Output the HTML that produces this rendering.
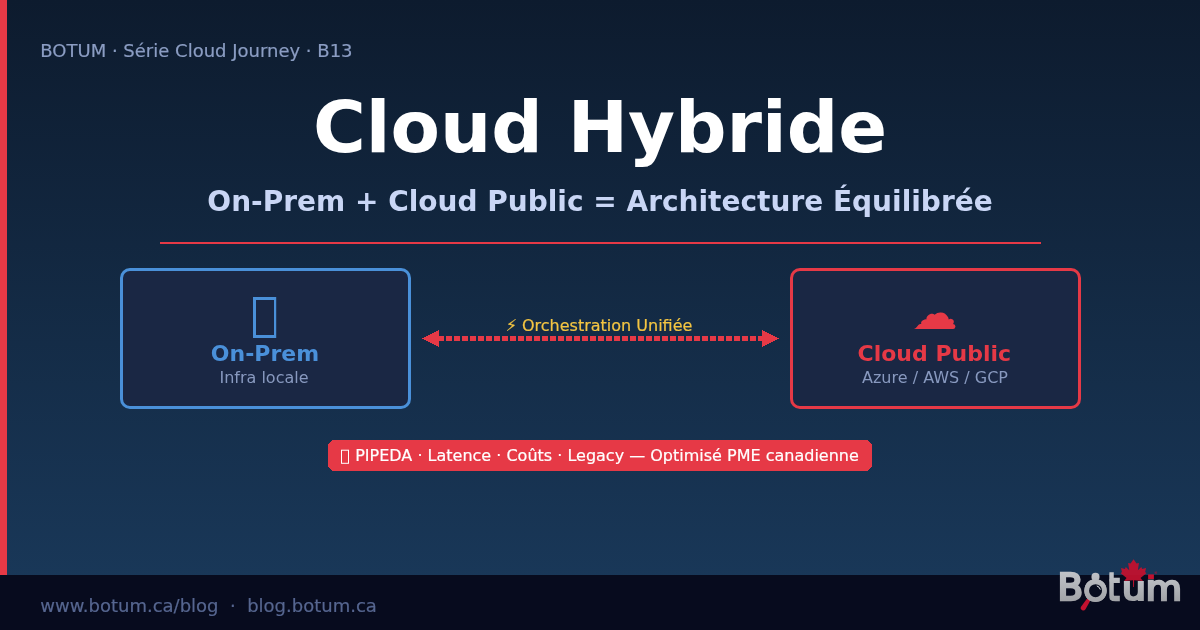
<!DOCTYPE html>
<html lang="fr">
<head>
<meta charset="utf-8">
<title>Cloud Hybride — BOTUM</title>
<style>
  html, body { margin: 0; padding: 0; background: #070b1e; }
  body { width: 1200px; height: 630px; overflow: hidden; }
  svg { display: block; will-change: transform; }
  text { font-family: "DejaVu Sans", "Liberation Sans", sans-serif; }
  .r { stroke-width: 0.2px; stroke-linejoin: round; }
</style>
</head>
<body>
<svg width="1200" height="630" viewBox="0 0 1200 630">
  <defs>
    <filter id="noop" x="0" y="0" width="1200" height="630" filterUnits="userSpaceOnUse"><feOffset dx="0" dy="0"/></filter>
    <linearGradient id="bg" x1="0" y1="0" x2="0" y2="1">
      <stop offset="0" stop-color="#0d1b2e"/>
      <stop offset="1" stop-color="#1a3a5c"/>
    </linearGradient>
    <linearGradient id="lg" gradientUnits="userSpaceOnUse" x1="0" y1="571" x2="0" y2="602">
      <stop offset="0" stop-color="#c0c3c8"/>
      <stop offset="1" stop-color="#a2a4a8"/>
    </linearGradient>
    <linearGradient id="lgt" x1="0" y1="0.17" x2="0" y2="0.8">
      <stop offset="0" stop-color="#c0c3c8"/>
      <stop offset="1" stop-color="#a2a4a8"/>
    </linearGradient>
  </defs>
  <rect x="0" y="0" width="1200" height="630" fill="url(#bg)"/>
  <rect x="0" y="0" width="7" height="630" fill="#e63946"/>
  <g filter="url(#noop)">
  <rect x="0" y="575" width="1200" height="55" fill="#070b1e"/>

  <text class="r" x="40.300" y="57" font-size="18" fill="#8b9dc3" stroke="#8b9dc3">BOTUM · Série Cloud Journey · B13</text>
  <text x="600" y="152" font-size="72" font-weight="bold" fill="#ffffff" text-anchor="middle">Cloud Hybride</text>
  <text x="600" y="211" font-size="28" font-weight="bold" fill="#c9d6f5" text-anchor="middle">On-Prem + Cloud Public = Architecture Équilibrée</text>
  <rect x="160" y="242" width="881" height="2" fill="#e63946"/>

  <rect x="121.500" y="269.500" width="288" height="138" rx="8.500" ry="8.500" fill="#1a2744" stroke="#4a90d9" stroke-width="3"/>
  <path d="M253 297 H276.200 V338 H253 Z M256 300 V335 H274 V300 Z" fill="#4a90d9" fill-rule="evenodd"/>
  <text x="265" y="361" font-size="22" font-weight="bold" fill="#4a90d9" text-anchor="middle">On-Prem</text>
  <text x="264" y="383" font-size="16" fill="#8899bf" text-anchor="middle">Infra locale</text>

  <rect x="791.500" y="269.500" width="288" height="138" rx="8.500" ry="8.500" fill="#1a2744" stroke="#e63946" stroke-width="3"/>
  <text x="934.700" y="329" font-size="46" fill="#e63946" text-anchor="middle">☁</text>
  <text x="934.300" y="360.600" font-size="22" font-weight="bold" fill="#e63946" text-anchor="middle">Cloud Public</text>
  <text x="935" y="383" font-size="16" fill="#8899bf" text-anchor="middle">Azure / AWS / GCP</text>

  <line x1="438" y1="338.500" x2="764" y2="338.500" stroke="#e63946" stroke-width="5" stroke-dasharray="6 2"/>
  <path d="M422 338.500 L439 330 L439 347 Z" fill="#e63946" shape-rendering="crispEdges"/>
  <path d="M779 338.500 L762 330 L762 347 Z" fill="#e63946" shape-rendering="crispEdges"/>
  <text class="r" x="599" y="331" font-size="16" fill="#f4c542" stroke="#f4c542" text-anchor="middle">⚡ Orchestration Unifiée</text>

  <path d="M332.500 440 H867.500 L872 444.500 V466.500 L867.500 471 H332.500 L328 466.500 V444.500 Z" fill="#e63946" shape-rendering="crispEdges"/>
  <rect x="341.500" y="450.200" width="7" height="13.100" fill="none" stroke="#ffffff" stroke-width="1"/>
  <text class="r" x="607" y="461" font-size="16" fill="#ffffff" stroke="#ffffff" text-anchor="middle">PIPEDA · Latence · Coûts · Legacy — Optimisé PME canadienne</text>

  <text class="r" x="40.300" y="612" font-size="18" fill="#566690" stroke="#566690" xml:space="preserve">www.botum.ca/blog  ·  blog.botum.ca</text>
  <!--LOGO--><g id="logo" aria-label="Botum">
    <clipPath id="tclip"><rect x="1109.4" y="565" width="20" height="45"/></clipPath>
    <path d="M1087.3 598.3 L1081.2 606.4 A2.55 2.55 0 0 0 1085.5 609.3 L1090.5 600.2 Z" fill="#c4112f"/>
    <text transform="matrix(0.37324 0 0 0.37037 1057.387 599.950)" font-size="100" fill="url(#lgt)" stroke="url(#lgt)" stroke-width="6.72" stroke-linejoin="miter" stroke-miterlimit="2">B</text>
    <text transform="matrix(0.42434 0 0 0.36920 1082.559 600.777)" font-size="100" fill="url(#lgt)" stroke="url(#lgt)" stroke-width="1.51" stroke-linejoin="miter" stroke-miterlimit="2">o</text>
    <circle cx="1095.55" cy="590.7" r="8.9" fill="#080d1f" stroke="url(#lg)" stroke-width="4.8"/>
    <circle cx="1095.5" cy="576.9" r="4.05" fill="url(#lg)"/>
    <path d="M1097.2 586.0 A4.6 4.6 0 0 1 1100.2 589.2" stroke="#e8eaee" stroke-width="1" stroke-linecap="round" fill="none"/>
    <g clip-path="url(#tclip)"><text transform="matrix(0.32815 0 0 0.36602 1106.419 599.900)" font-size="100" fill="url(#lgt)" stroke="url(#lgt)" stroke-width="7.49" stroke-linejoin="miter" stroke-miterlimit="2">t</text></g>
    <text transform="matrix(0.37772 0 0 0.31347 1122.091 600.156)" font-size="100" fill="url(#lgt)" stroke="url(#lgt)" stroke-width="6.94" stroke-linejoin="miter" stroke-miterlimit="2">u</text>
    <text transform="matrix(0.37202 0 0 0.33211 1145.821 599.900)" font-size="100" fill="url(#lgt)" stroke="url(#lgt)" stroke-width="6.82" stroke-linejoin="miter" stroke-miterlimit="2">m</text>
    <rect x="1148.1" y="574.4" width="5.8" height="4.6" fill="#c4112f"/>
    <text x="1153.9" y="573.8" font-size="3.6" fill="#c4112f">®</text>
    <path d="M1133.55 559.20 L1136.50 563.60 L1138.95 562.90 L1137.85 570.30 L1141.35 567.00 L1142.15 569.00 L1146.05 568.00 L1145.15 571.90 L1146.35 573.30 L1140.55 578.10 L1142.95 581.10 L1134.15 580.20 L1134.00 586.90 L1133.10 586.90 L1132.95 580.20 L1124.15 581.10 L1126.55 578.10 L1120.75 573.30 L1121.95 571.90 L1121.05 568.00 L1124.95 569.00 L1125.75 567.00 L1129.25 570.30 L1128.15 562.90 L1130.60 563.60 Z" fill="#c1112f" fill-opacity="0.94"/>
  </g><!--/LOGO-->
  </g>
</svg>
</body>
</html>
